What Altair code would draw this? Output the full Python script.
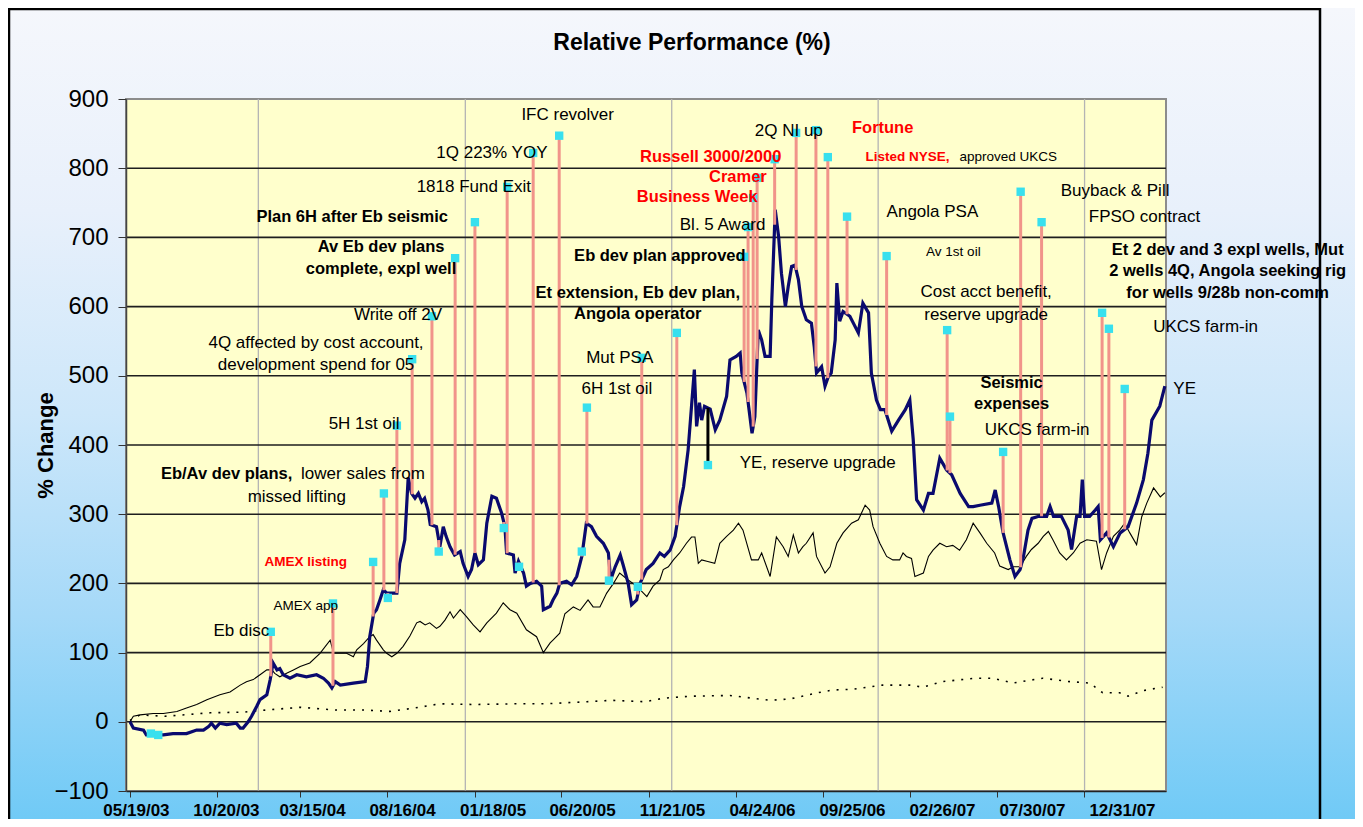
import altair as alt
import numpy as np
import pandas as pd

START = pd.Timestamp("2003-05-19")

# ---------------- data: days after 05/19/03 and % change ----------------
stock_day = [0, 6, 24, 29, 59, 76, 100, 118, 130, 139, 144, 151, 159, 171, 188, 195, 200, 209, 215, 224,
             230, 242, 248, 253, 260, 265, 271, 283, 295, 312, 330, 342, 351, 357, 363, 372, 395, 416, 420, 424,
             431, 436, 442, 448, 454, 463, 472, 477, 486, 492, 498, 504, 510, 516, 521, 527, 531, 542, 548, 554,
             559, 566, 574, 584, 589, 598, 604, 610, 616, 625, 631, 640, 648, 657, 663, 666, 678, 681, 687, 696,
             701, 708, 719, 728, 731, 743, 748, 755, 760, 772, 781, 790, 799, 807, 816, 825, 837, 846, 850, 858,
             867, 872, 881, 887, 896, 902, 913, 925, 937, 945, 955, 964, 972, 979, 987, 993, 998, 1002, 1007, 1011,
             1016, 1026, 1035, 1043, 1055, 1061, 1072, 1079, 1082, 1091, 1100, 1105, 1111, 1117, 1123, 1132, 1135, 1141, 1147, 1152,
             1159, 1164, 1170, 1176, 1182, 1188, 1196, 1205, 1210, 1214, 1223, 1229, 1235, 1240, 1247, 1250, 1255, 1261, 1273, 1288,
             1296, 1306, 1311, 1320, 1327, 1335, 1347, 1359, 1371, 1379, 1385, 1391, 1403, 1412, 1420, 1432, 1444, 1453, 1468, 1483,
             1491, 1503, 1524, 1530, 1536, 1544, 1556, 1565, 1574, 1580, 1588, 1595, 1607, 1621, 1627, 1633, 1647, 1659, 1665, 1674,
             1680, 1684, 1688, 1697, 1707, 1712, 1716, 1727, 1739, 1751, 1765, 1780, 1792, 1800, 1807, 1821, 1830]
stock_pct = [0, -9, -12, -19, -19, -17, -17, -12, -12, -7, -2, -9, -2, -4, -2, -9, -9, 0, 8, 22,
             32, 39, 61, 85, 75, 77, 68, 63, 68, 65, 68, 63, 56, 49, 58, 53, 56, 58, 80, 123,
             157, 162, 176, 191, 186, 186, 186, 229, 263, 353, 330, 323, 330, 318, 323, 306, 285, 282, 253, 282,
             268, 253, 241, 246, 229, 210, 220, 244, 227, 234, 287, 326, 323, 302, 282, 244, 241, 215, 232, 215,
             196, 200, 203, 196, 162, 167, 176, 186, 200, 203, 198, 210, 239, 287, 282, 268, 258, 244, 205, 224,
             241, 227, 200, 169, 176, 200, 220, 229, 244, 239, 248, 268, 311, 340, 393, 456, 509, 427, 461, 436,
             456, 452, 422, 436, 470, 523, 528, 533, 504, 475, 417, 441, 566, 552, 528, 528, 610, 740, 701, 648,
             600, 629, 658, 660, 639, 600, 581, 576, 542, 504, 513, 485, 499, 504, 552, 634, 579, 593, 586, 562,
             605, 591, 504, 465, 451, 451, 420, 436, 451, 465, 408, 321, 306, 330, 330, 381, 364, 357, 330, 311,
             311, 313, 316, 335, 311, 273, 234, 210, 220, 239, 277, 294, 297, 297, 311, 297, 297, 277, 249, 297,
             297, 350, 297, 297, 306, 311, 263, 273, 253, 273, 282, 316, 350, 388, 436, 456, 485]

index_day = [0, 6, 18, 41, 59, 83, 100, 118, 136, 159, 177, 195, 206, 218, 230, 242, 251, 256, 265, 277,
             289, 301, 318, 336, 354, 360, 383, 395, 401, 413, 424, 430, 436, 448, 454, 463, 472, 483, 495, 507,
             513, 522, 530, 542, 548, 557, 566, 572, 584, 595, 607, 619, 631, 648, 660, 672, 684, 701, 719, 731,
             743, 748, 760, 769, 784, 796, 810, 819, 831, 843, 855, 866, 881, 896, 908, 914, 925, 937, 943, 952,
             961, 972, 984, 993, 999, 1005, 1011, 1020, 1034, 1043, 1055, 1067, 1076, 1084, 1099, 1111, 1117, 1132, 1143, 1155,
             1164, 1173, 1182, 1190, 1196, 1208, 1214, 1229, 1238, 1250, 1261, 1276, 1288, 1300, 1308, 1314, 1326, 1338, 1349, 1361,
             1367, 1373, 1382, 1388, 1403, 1412, 1420, 1432, 1444, 1455, 1467, 1479, 1491, 1503, 1515, 1529, 1538, 1553, 1562, 1574,
             1585, 1594, 1606, 1615, 1624, 1632, 1644, 1656, 1668, 1680, 1692, 1709, 1718, 1727, 1739, 1750, 1759, 1768, 1780, 1789,
             1798, 1810, 1822, 1830]
index_pct = [0, 8, 10, 12, 12, 15, 20, 25, 32, 39, 43, 53, 58, 61, 68, 75, 75, 70, 65, 70,
             75, 80, 85, 99, 118, 99, 99, 94, 104, 113, 123, 126, 118, 104, 99, 94, 99, 109, 124, 143,
             145, 140, 143, 135, 138, 147, 159, 150, 162, 152, 140, 130, 143, 157, 172, 162, 157, 133, 123, 100,
             114, 118, 128, 156, 166, 161, 176, 166, 166, 186, 200, 215, 205, 196, 186, 181, 196, 205, 220, 224,
             234, 244, 258, 267, 267, 229, 234, 232, 229, 258, 268, 277, 287, 277, 234, 234, 244, 210, 267, 253,
             239, 270, 244, 253, 258, 273, 239, 215, 224, 258, 273, 287, 292, 313, 306, 282, 258, 239, 234, 234,
             244, 239, 236, 210, 215, 239, 248, 258, 253, 255, 248, 263, 287, 273, 258, 244, 225, 220, 224, 224,
             239, 249, 258, 268, 275, 263, 244, 234, 244, 258, 263, 261, 220, 244, 268, 277, 287, 273, 256, 296,
             316, 338, 325, 331]

dot_day = [0, 18, 62, 142, 203, 212, 301, 363, 416, 460, 504, 548, 610, 681, 734, 808, 852, 911, 943, 990,
           1061, 1132, 1167, 1216, 1243, 1278, 1331, 1379, 1402, 1436, 1494, 1526, 1561, 1614, 1662, 1697,
           1720, 1750, 1765, 1791, 1826]
dot_pct = [2, 10, 8, 13, 14, 15, 21, 17, 17, 15, 20, 26, 25, 26, 26, 29, 31, 29, 34, 37,
           38, 31, 33, 42, 46, 47, 53, 53, 50, 58, 63, 63, 56, 63, 58, 56,
           42, 42, 37, 45, 50]

# event markers (cyan squares) and their connectors down/up to the stock line
event_day = [37, 50, 249, 359, 430, 449, 456, 472, 499, 534, 546, 575, 610, 661, 667, 688, 713, 759, 799, 808,
             847, 898, 905, 967, 1022, 1086, 1093, 1102, 1109, 1140, 1178, 1213, 1234, 1268, 1338, 1445, 1450,
             1544, 1575, 1612, 1719, 1731, 1759]
event_pct = [-17, -19, 130, 171, 231, 330, 179, 428, 524, 586, 246, 670, 722, 280, 773, 224, 822, 847, 246, 454,
             204, 195, 526, 562, 371, 672, 715, 757, 786, 813, 851, 855, 816, 730, 673, 566, 441,
             390, 766, 722, 591, 568, 481]
black_connector_days = [1022]

# annotation texts with their anchor (day, % of first line)
label_text = [
    "Eb disc", "AMEX app", "AMEX listing", "Eb/Av dev plans,", "lower sales from", "missed lifting",
    "5H 1st oil", "4Q affected by cost account,\ndevelopment spend for 05", "Write off 2V",
    "Av Eb dev plans\ncomplete,  expl  well", "Plan 6H after Eb seismic", "1818 Fund Exit", "1Q 223% YOY",
    "IFC revolver", "6H 1st oil", "Mut PSA", "Et extension, Eb dev plan,\nAngola operator",
    "Eb dev plan approved", "YE, reserve upgrade", "Bl. 5 Award", "Business Week", "Cramer",
    "Russell 3000/2000", "2Q NI up", "Fortune", "Listed NYSE,", "approved UKCS", "Angola PSA", "Av 1st oil",
    "Cost acct benefit,\nreserve upgrade", "Seismic\nexpenses", "UKCS farm-in", "Buyback & Pill",
    "FPSO contract",
    "Et 2 dev and 3 expl wells, Mut\n2 wells 4Q, Angola seeking rig\nfor wells 9/28b non-comm",
    "UKCS farm-in", "YE",
]
label_day = [197, 311, 311, 171, 412, 295, 414, 329, 474, 444, 393, 608, 640, 774, 861, 866, 898, 937, 1216,
             1048, 1003, 1075, 1027, 1165, 1331, 1375, 1553, 1419, 1456, 1514, 1559, 1604, 1742, 1794, 1941,
             1902, 1865]
label_pct = [131, 168, 231, 358, 358, 325, 431, 548, 588, 686, 730, 773, 822, 877, 481, 526, 620, 673, 374,
             718, 759, 788, 816, 854, 858, 816, 816, 736, 679, 621, 490, 421, 767, 730, 682, 571, 481]
bold_labels = {"AMEX listing", "Eb/Av dev plans,", "Av Eb dev plans\ncomplete,  expl  well",
               "Plan 6H after Eb seismic", "Et extension, Eb dev plan,\nAngola operator",
               "Eb dev plan approved", "Business Week", "Cramer", "Russell 3000/2000", "Fortune",
               "Listed NYSE,", "Seismic\nexpenses",
               "Et 2 dev and 3 expl wells, Mut\n2 wells 4Q, Angola seeking rig\nfor wells 9/28b non-comm"}
red_labels = {"AMEX listing", "Business Week", "Cramer", "Russell 3000/2000", "Fortune", "Listed NYSE,"}
small_labels = {"AMEX app", "AMEX listing", "Listed NYSE,", "approved UKCS", "Av 1st oil"}

tick_labels = ["05/19/03", "10/20/03", "03/15/04", "08/16/04", "01/18/05", "06/20/05",
               "11/21/05", "04/24/06", "09/25/06", "02/26/07", "07/30/07", "12/31/07"]
year_starts = ["2004-01-01", "2005-01-01", "2006-01-01", "2007-01-01", "2008-01-01"]
grid_values = [0, 100, 200, 300, 400, 500, 600, 700, 800]
y_ticks = [-100, 0, 100, 200, 300, 400, 500, 600, 700, 800, 900]

# ---------------- styles ----------------
FONT = "Liberation Sans"
NAVY = "#0A0A6E"
SALMON = "#F1948A"
CYAN = "#38E0EE"
RED = "#FF0000"
W, H = 1040, 692
PAD = {"left": 118, "top": 91, "right": 189, "bottom": 28}


def to_dates(days):
    return [START + pd.Timedelta(days=int(d)) for d in days]


stock_df = pd.DataFrame({"date": to_dates(stock_day), "pct": stock_pct})
index_df = pd.DataFrame({"date": to_dates(index_day), "pct": index_pct})
dot_df = pd.DataFrame({"date": to_dates(dot_day), "pct": dot_pct})
events_df = pd.DataFrame({
    "date": to_dates(event_day),
    "pct": event_pct,
    "base": np.interp(event_day, stock_day, stock_pct),
    "lc": ["black" if d in black_connector_days else SALMON for d in event_day],
})
labels_df = pd.DataFrame({
    "date": to_dates(label_day),
    "pct": label_pct,
    "text": label_text,
    "bold": [t in bold_labels for t in label_text],
    "col": [RED if t in red_labels else "black" for t in label_text],
    "fs": [13.5 if t in small_labels else (16.5 if t in bold_labels else 17) for t in label_text],
})
years_df = pd.DataFrame({"date": pd.to_datetime(year_starts)})
grid_df = pd.DataFrame({"pct": grid_values})
one = pd.DataFrame({"k": [0]})


def dt(s):
    m, d, y = s.split("/")
    return alt.DateTime(year=2000 + int(y), month=int(m), date=int(d))


x_enc = alt.X(
    "date:T",
    title=None,
    scale=alt.Scale(domain=[alt.DateTime(year=2003, month=5, date=12),
                            alt.DateTime(year=2008, month=5, date=24)]),
    axis=alt.Axis(values=[dt(s) for s in tick_labels], format="%m/%d/%y", grid=False,
                  labelFont=FONT, labelFontSize=17, labelFontWeight="bold", labelColor="black",
                  labelOffset={"expr": "6 + 32*datum.index"}, labelPadding=5, labelFlush=False,
                  labelOverlap=False, labelBound=False, tickSize=6, tickColor="#333333",
                  domainColor="#222222", domainWidth=1.5, zindex=1),
)
y_enc = alt.Y(
    "pct:Q",
    title="% Change",
    scale=alt.Scale(domain=[-100, 900], nice=False, zero=False),
    axis=alt.Axis(values=y_ticks, grid=False, labelFont=FONT, labelFontSize=24, labelColor="black",
                  labelPadding=10, tickSize=8, tickColor="#333333", domainColor="#444444",
                  domainWidth=1.5, titleFont=FONT, titleFontSize=22, titleFontWeight="bold",
                  titleColor="black", titleX=-81, titleY=H / 2, titleAngle=270,
                  titleBaseline="middle", titleAlign="center", zindex=1),
)

bg = alt.Chart(one).mark_rect(
    fill={"gradient": "linear", "x1": 0, "x2": 0, "y1": 0, "y2": 1,
          "stops": [{"offset": 0, "color": "#F5F7FC"}, {"offset": 0.25, "color": "#E8F0FB"},
                    {"offset": 0.5, "color": "#CDE7FA"}, {"offset": 0.75, "color": "#A5D9F8"},
                    {"offset": 1, "color": "#70CAF6"}]}
).encode(x=alt.value(-PAD["left"]), x2=alt.value(W + PAD["right"]),
         y=alt.value(-PAD["top"]), y2=alt.value(H + PAD["bottom"]))

frame = alt.Chart(one).mark_rect(filled=False, stroke="black", strokeWidth=2.5).encode(
    x=alt.value(-PAD["left"] + 1), x2=alt.value(1194), y=alt.value(-PAD["top"] + 1), y2=alt.value(H + 60))

plot_bg = alt.Chart(one).mark_rect(fill="#FFFFCC", stroke="#8C8C8C", strokeWidth=2).encode(
    x=alt.value(0), x2=alt.value(W), y=alt.value(0), y2=alt.value(H))

title = alt.Chart(one).mark_text(text="Relative Performance (%)", font=FONT, fontSize=23,
                                 fontWeight="bold", color="black", align="center",
                                 baseline="middle").encode(x=alt.value(566), y=alt.value(-56))

years = alt.Chart(years_df).mark_rule(color="#B4B4B4", strokeWidth=1.3).encode(x=x_enc)
grid = alt.Chart(grid_df).mark_rule(color="#1E1E1E", strokeWidth=1.6).encode(y=y_enc)

dotted = alt.Chart(dot_df).mark_line(color="black", strokeWidth=1.6, strokeDash=[2, 7]).encode(
    x=x_enc, y=y_enc)
index_line = alt.Chart(index_df).mark_line(color="black", strokeWidth=1.1).encode(x=x_enc, y=y_enc)
stock_line = alt.Chart(stock_df).mark_line(color=NAVY, strokeWidth=3.2).encode(x=x_enc, y=y_enc)

connectors = alt.Chart(events_df).mark_rule(strokeWidth=3).encode(
    x=x_enc, y=y_enc, y2="base:Q", color=alt.Color("lc:N", scale=None))
markers = alt.Chart(events_df).mark_square(size=70, color=CYAN, opacity=1).encode(x=x_enc, y=y_enc)

txt_norm = alt.Chart(labels_df).transform_filter("!datum.bold").mark_text(
    font=FONT, align="center", baseline="middle", lineBreak="\n", lineHeight=22.5
).encode(x=x_enc, y=y_enc, text="text:N", size=alt.Size("fs:Q", scale=None),
         color=alt.Color("col:N", scale=None))
txt_bold = alt.Chart(labels_df).transform_filter("datum.bold").mark_text(
    font=FONT, fontWeight="bold", align="center", baseline="middle", lineBreak="\n", lineHeight=21.5
).encode(x=x_enc, y=y_enc, text="text:N", size=alt.Size("fs:Q", scale=None),
         color=alt.Color("col:N", scale=None))

chart = alt.layer(
    bg, frame, plot_bg, years, grid, dotted, index_line, stock_line, connectors, markers,
    txt_norm, txt_bold, title
).properties(
    width=W, height=H, padding=PAD, autosize=alt.AutoSizeParams(type="none")
).configure(font=FONT).configure_view(strokeWidth=0)

chart.save("out.html", embed_options={"renderer": "svg", "actions": False})
